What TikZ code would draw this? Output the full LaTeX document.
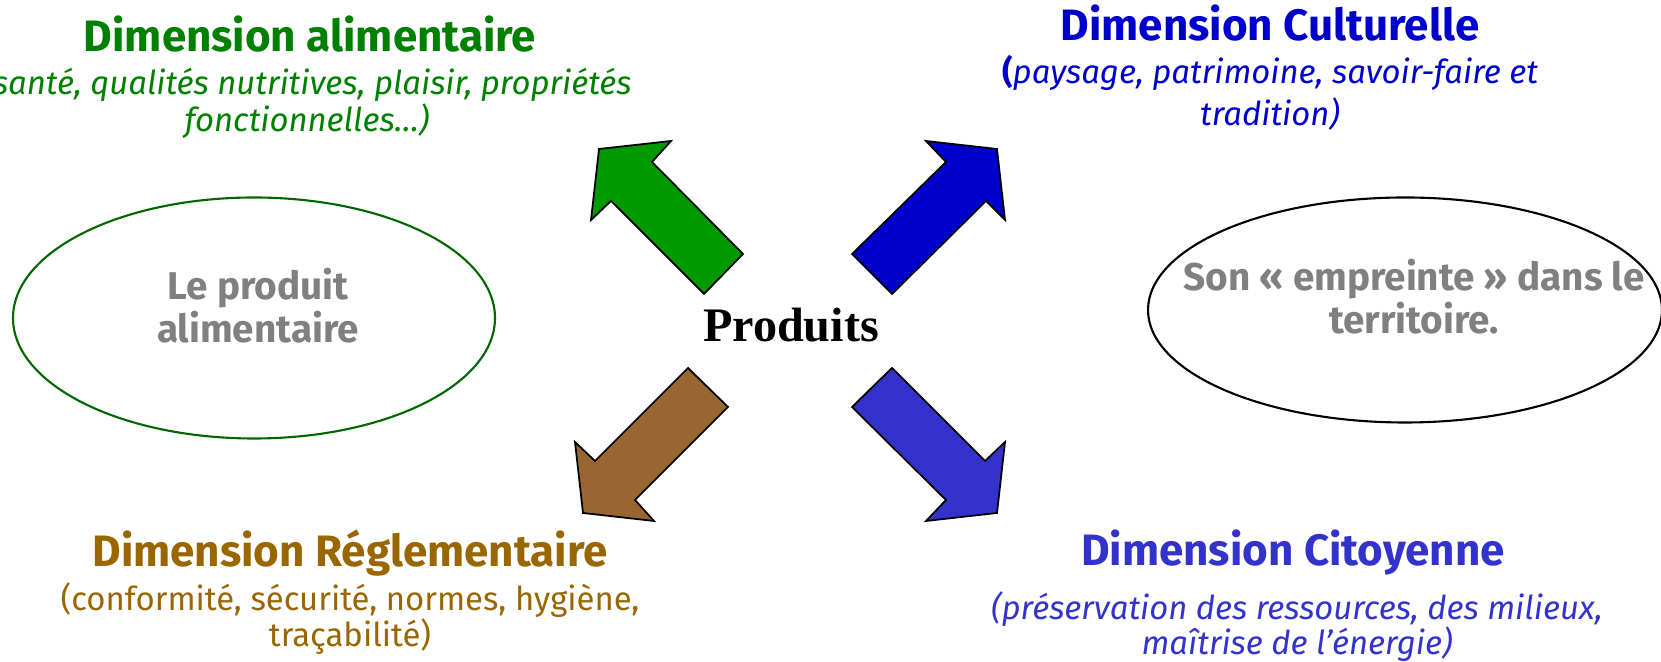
\documentclass[tikz,border=0pt]{standalone}
\usepackage{fontspec}
\setmainfont{Fira Sans}
\newfontfamily\timesfont{Liberation Serif}

\definecolor{vertTxt}{RGB}{0,128,0}
\definecolor{vertFl}{RGB}{0,153,0}
\definecolor{vertCadre}{RGB}{0,102,0}
\definecolor{bleuFl}{RGB}{0,0,204}
\definecolor{brunTxt}{RGB}{153,102,0}
\definecolor{brunFl}{RGB}{153,102,51}
\definecolor{violetFl}{RGB}{51,51,204}
\definecolor{grisTxt}{RGB}{128,128,128}

\begin{document}
\begin{tikzpicture}[x=0.01cm,y=-0.01cm]
\tikzstyle{every node}=[inner sep=0pt,anchor=base]
\tikzstyle{titre}=[font=\fontsize{12.5}{14}\selectfont\bfseries]
\tikzstyle{detail}=[align=center]
\tikzstyle{interne}=[align=center,text=grisTxt,font=\fontsize{11}{12.5}\selectfont\bfseries]
\tikzstyle{fleche}=[draw=black,line width=0.5pt,line join=miter]

\useasboundingbox (0,0) rectangle (1661,662);

% les deux ellipses
\draw[vertCadre,line width=0.6pt] (254,318) ellipse [x radius=241,y radius=120.5];
\draw[black,line width=0.6pt] (1405,310) ellipse [x radius=257,y radius=112.5];
\node[interne] (produit) at (258,343) {Le produit\\alimentaire};
\node[interne] (empreinte) at (1414,334) {Son «~empreinte~» dans le\\territoire.};

% le centre
\node[font=\timesfont\fontsize{13.7}{16}\selectfont\bfseries] (produits) at (791,342) {Produits};

% les quatre fleches
\filldraw[fleche,fill=vertFl] (599,149) -- (671,141) -- (652,162) -- (743,254)
  -- (704,294) -- (611,201) -- (591,220) -- cycle;
\filldraw[fleche,fill=bleuFl] (926,141) -- (997,149) -- (1005,220) -- (986,201)
  -- (892,294) -- (852,254) -- (946,162) -- cycle;
\filldraw[fleche,fill=brunFl] (688,368) -- (728,407) -- (635,500) -- (654,521)
  -- (583,513) -- (575,442) -- (595,461) -- cycle;
\filldraw[fleche,fill=violetFl] (852,407) -- (892,368) -- (985,461) -- (1005,442)
  -- (997,513) -- (926,521) -- (946,500) -- cycle;

% les dimensions
\node[titre,text=vertTxt] (alim) at (310,52) {Dimension alimentaire};
\node[detail,text=vertTxt,font=\fontsize{9.35}{10.8}\selectfont] (alimD) at (307,132)
  {\itshape(santé, qualités nutritives, plaisir, propriétés\\\itshape fonctionnelles…)};

\node[titre,text=bleuFl] (cult) at (1270,41) {Dimension Culturelle};
\node[detail,text=bleuFl,font=\fontsize{9.35}{12}\selectfont] (cultD) at (1270,126)
  {\textbf{(}\textit{paysage, patrimoine, savoir-faire et}\\\textit{tradition)}};

\node[titre,text=brunTxt] (regl) at (350,567) {Dimension Réglementaire};
\node[detail,text=brunTxt,font=\fontsize{9.35}{10.5}\selectfont] (reglD) at (350,647)
  {(conformité, sécurité, normes, hygiène,\\traçabilité)};

\node[titre,text=violetFl] (cit) at (1293,566) {Dimension Citoyenne};
\node[detail,text=violetFl,font=\fontsize{9.35}{10}\selectfont] (citD) at (1297,655)
  {\itshape(préservation des ressources, des milieux,\\\itshape maîtrise de l’énergie)};

\end{tikzpicture}
\end{document}
